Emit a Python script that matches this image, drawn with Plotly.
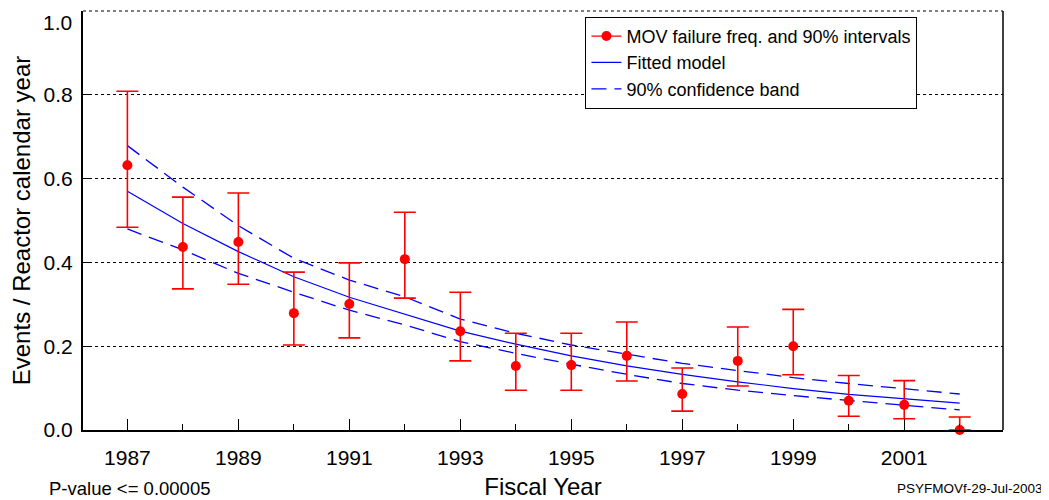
import plotly.graph_objects as go

years = [1987, 1988, 1989, 1990, 1991, 1992, 1993, 1994, 1995, 1996, 1997, 1998, 1999, 2000, 2001, 2002]
freq = [0.632, 0.437, 0.449, 0.279, 0.301, 0.408, 0.236, 0.153, 0.155, 0.177, 0.086, 0.165, 0.200, 0.070, 0.060, 0.000]
upper = [0.809, 0.556, 0.566, 0.377, 0.399, 0.520, 0.329, 0.231, 0.231, 0.258, 0.148, 0.246, 0.288, 0.130, 0.118, 0.031]
lower = [0.484, 0.337, 0.348, 0.203, 0.220, 0.315, 0.165, 0.095, 0.095, 0.117, 0.045, 0.105, 0.132, 0.033, 0.027, 0.000]
fitted = [0.570, 0.493, 0.426, 0.366, 0.317, 0.276, 0.236, 0.205, 0.177, 0.153, 0.133, 0.115, 0.099, 0.085, 0.074, 0.064]
band_hi = [0.679, 0.580, 0.488, 0.410, 0.358, 0.318, 0.265, 0.231, 0.203, 0.181, 0.159, 0.142, 0.125, 0.111, 0.099, 0.086]
band_lo = [0.480, 0.430, 0.374, 0.329, 0.286, 0.251, 0.211, 0.183, 0.157, 0.133, 0.111, 0.095, 0.082, 0.070, 0.059, 0.048]
x_ticks = [1987, 1989, 1991, 1993, 1995, 1997, 1999, 2001]
y_ticks = [0.0, 0.2, 0.4, 0.6, 0.8, 1.0]
y_ticktext = ["0.0", "0.2", "0.4", "0.6", "0.8", ""]  # top label drawn separately so it is not cut off
top_label = "1.0"

RED = "#ff0000"
BLUE = "#0000ff"
FONT = "Liberation Sans, Arial, sans-serif"

err_plus = [u - f for u, f in zip(upper, freq)]
err_minus = [f - l for f, l in zip(freq, lower)]

fig = go.Figure()

fig.add_trace(go.Scatter(
    x=years, y=band_hi, mode="lines", line=dict(color=BLUE, width=1.3, dash="15px,8px"),
    showlegend=False, hoverinfo="skip"))
fig.add_trace(go.Scatter(
    x=years, y=band_lo, mode="lines", line=dict(color=BLUE, width=1.3, dash="15px,8px"),
    showlegend=False, hoverinfo="skip"))
fig.add_trace(go.Scatter(
    x=years, y=fitted, mode="lines", line=dict(color=BLUE, width=1.2),
    showlegend=False))
fig.add_trace(go.Scatter(
    x=years, y=freq, mode="markers",
    marker=dict(color=RED, size=10),
    error_y=dict(type="data", symmetric=False, array=err_plus, arrayminus=err_minus,
                 color=RED, thickness=1.6, width=11),
    cliponaxis=False, showlegend=False))

# legend entries
fig.add_trace(go.Scatter(x=[None], y=[None], mode="lines+markers",
                         line=dict(color=RED, width=1.2), marker=dict(color=RED, size=10),
                         name="MOV failure freq. and 90% intervals"))
fig.add_trace(go.Scatter(x=[None], y=[None], mode="lines",
                         line=dict(color=BLUE, width=1.2), name="Fitted model"))
fig.add_trace(go.Scatter(x=[None], y=[None], mode="lines",
                         line=dict(color=BLUE, width=1.3, dash="15px,8px"),
                         name="90% confidence band"))

# The page body has an 8px margin, so the figure is made 8px smaller
fig.update_layout(
    width=1041, height=492,
    margin=dict(l=75, r=46, t=3, b=70, autoexpand=False),
    paper_bgcolor="white", plot_bgcolor="white",
    font=dict(family=FONT, size=21, color="black"),
    showlegend=True,
    legend=dict(x=0.907, xanchor="right", y=0.986, yanchor="top",
                bgcolor="white", bordercolor="black", borderwidth=1,
                font=dict(size=18, family=FONT), tracegroupgap=0),
    xaxis=dict(range=[1986.2, 2002.78], tickvals=x_ticks, ticktext=[str(v) for v in x_ticks],
               ticks="inside", ticklen=11, tickcolor="black", tickwidth=1,
               minor=dict(dtick=1, tick0=1987, ticks="inside", ticklen=6, tickcolor="black", showgrid=False),
               showline=True, linecolor="black", linewidth=2, mirror=False,
               showgrid=False, zeroline=False, automargin=False, ticklabelstandoff=8,
               ticklabeloverflow="allow",
               title=dict(text="Fiscal Year", standoff=22, font=dict(size=24))),
    yaxis=dict(range=[0, 1.0005], tickvals=y_ticks, ticktext=y_ticktext,
               ticks="inside", ticklen=6, tickcolor="black",
               showline=True, linecolor="black", linewidth=2,
               showgrid=True, gridcolor="black", gridwidth=1, griddash="dot",
               zeroline=False, automargin=False, ticklabelstandoff=4,
               ticklabeloverflow="allow",
               title=dict(text="Events / Reactor calendar year", standoff=8, font=dict(size=24))),
)

# right frame line and dotted top line
fig.add_shape(type="line", xref="paper", yref="paper", x0=1, x1=1, y0=0, y1=1,
              line=dict(color="black", width=1.5))
fig.add_shape(type="line", xref="paper", yref="paper", x0=0, x1=1, y0=1, y1=1,
              line=dict(color="black", width=1, dash="dot"))

fig.add_annotation(text=top_label, xref="paper", yref="paper",
                   x=-0.011, y=1.0, xanchor="right", yanchor="top", yshift=1,
                   showarrow=False, borderpad=0,
                   font=dict(size=21, family=FONT))
fig.add_annotation(text="P-value <= 0.00005", xref="paper", yref="paper",
                   x=-0.039, y=-0.11, xanchor="left", yanchor="top", showarrow=False,
                   font=dict(size=18.5, family=FONT))
fig.add_annotation(text="PSYFMOVf-29-Jul-2003", xref="paper", yref="paper",
                   x=1.0455, y=-0.118, xanchor="right", yanchor="top", showarrow=False,
                   font=dict(size=13.5, family=FONT))

fig.write_html("out.html")
